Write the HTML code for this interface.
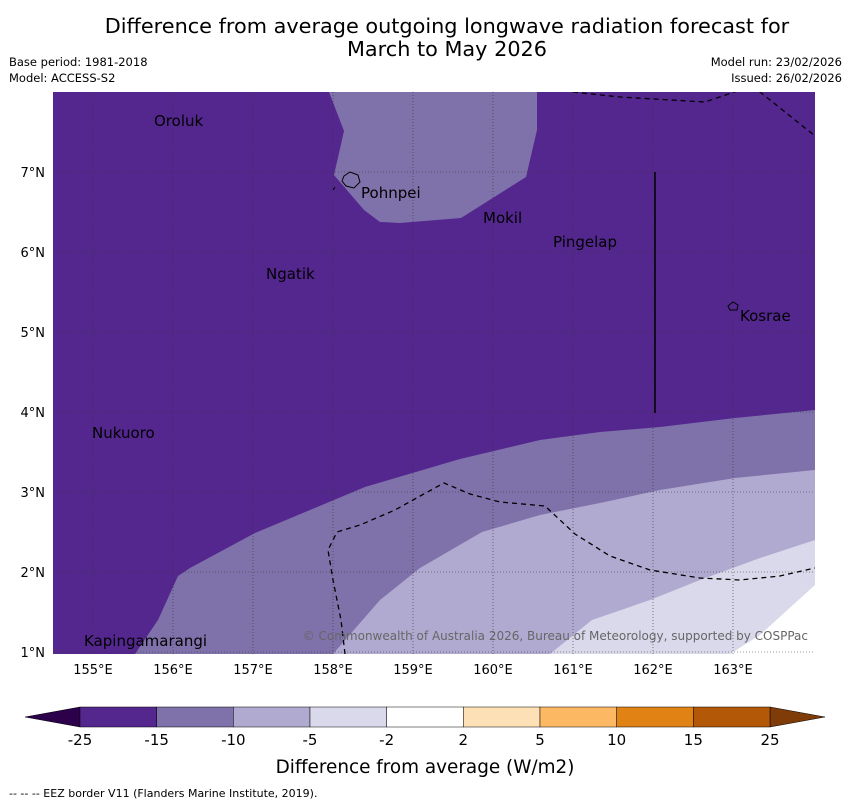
<!DOCTYPE html>
<html><head><meta charset="utf-8"><style>
body{margin:0;background:#fff;font-family:"Liberation Sans","DejaVu Sans",sans-serif;}
svg text{font-family:"DejaVu Sans","Liberation Sans",sans-serif;}
</style></head><body>
<svg width="850" height="804" xmlns="http://www.w3.org/2000/svg">
<text x="447" y="33" font-size="20.8" text-anchor="middle">Difference from average outgoing longwave radiation forecast for</text>
<text x="447" y="56" font-size="20.8" text-anchor="middle">March to May 2026</text>
<text x="9" y="66" font-size="11.5">Base period: 1981-2018</text>
<text x="9" y="82" font-size="11.5">Model: ACCESS-S2</text>
<text x="842" y="66" font-size="11.5" text-anchor="end">Model run: 23/02/2026</text>
<text x="842" y="82" font-size="11.5" text-anchor="end">Issued: 26/02/2026</text>
<g id="map">
<defs><clipPath id="mc"><rect x="53" y="92" width="762" height="562"/></clipPath></defs>
<g clip-path="url(#mc)">
<rect x="53" y="92" width="762" height="562" fill="#54278f"/>
<polygon points="329,92 537,92 537,130 526,177 461,218 400,223 380,222 364,210 334,175 344,131" fill="#7f72aa"/>
<polygon points="135,654 158,620 178,576 190,568 255,533 365,487 460,459 540,440 600,432 660,427 735,418 815,410 815,654" fill="#7f72aa"/>
<polygon points="333,654 380,600 420,568 482,532 540,515 600,503 660,490 735,478 815,470 815,654" fill="#b0aad0"/>
<polygon points="550,654 592,620 650,600 700,580 760,558 815,540 815,654" fill="#dad9eb"/>
<polygon points="730,654 760,635 815,585 815,654" fill="#ffffff"/>
<g id="grid" stroke="#333" stroke-width="0.6" stroke-dasharray="1,2"></g>
<line x1="655" y1="172" x2="655" y2="413" stroke="#000" stroke-width="1.5"/>
<g fill="none" stroke="#000" stroke-width="1.3" stroke-dasharray="5,4">
<polyline points="573,92 620,97 705,102 740,90 760,92 815,136"/>
<polyline points="345,654 341,620 333,580 328,550 337,532 360,525 395,510 422,495 444,483 470,494 500,502 545,506 575,534 610,556 650,570 700,578 740,580 780,576 815,568"/>
</g>
<g fill="none" stroke="#000" stroke-width="1">
<path d="M344,176 L350,172 L358,175 L360,182 L354,188 L346,186 L342,181 Z"/>
<path d="M728,306 L733,302 L738,305 L737,310 L730,310 Z"/>
<line x1="333" y1="190" x2="335" y2="187"/>
</g>
</g>
<g font-size="15" fill="#000">
<text x="154" y="126">Oroluk</text><text x="361" y="198">Pohnpei</text>
<text x="483" y="223">Mokil</text><text x="553" y="247">Pingelap</text>
<text x="266" y="279">Ngatik</text><text x="740" y="321">Kosrae</text>
<text x="92" y="438">Nukuoro</text><text x="84" y="646">Kapingamarangi</text>
</g>
<text x="808" y="640" font-size="12" fill="#666" text-anchor="end">© Commonwealth of Australia 2026, Bureau of Meteorology, supported by COSPPac</text>
<g id="axes" font-size="13"></g>
</g>
<g id="cbar"></g>
<text x="425" y="773" font-size="18.4" text-anchor="middle">Difference from average (W/m2)</text>
<text x="9" y="797" font-size="11">--  --  -- EEZ border V11 (Flanders Marine Institute, 2019).</text>
</svg>
<script>
const lonTicks=[155,156,157,158,159,160,161,162,163];
const latTicks=[1,2,3,4,5,6,7];
const cbarLabels=["-25","-15","-10","-5","-2","2","5","10","15","25"];
const cbarColors=["#54278f","#7f72aa","#b0aad0","#dad9eb","#ffffff","#fee0b6","#fdb863","#e08214","#b35806"];
const NS="http://www.w3.org/2000/svg";
const x=lon=>53+(lon-154.5)*80, y=lat=>92+(8-lat)*80;
const g=document.getElementById('grid'), ax=document.getElementById('axes');
function mk(t,a,p){const e=document.createElementNS(NS,t);for(const k in a)e.setAttribute(k,a[k]);p.appendChild(e);return e;}
lonTicks.forEach(l=>{mk('line',{x1:x(l),x2:x(l),y1:92,y2:654},g);const t=mk('text',{x:x(l),y:674,'text-anchor':'middle'},ax);t.textContent=l+'°E';

});
latTicks.forEach(l=>{mk('line',{x1:53,x2:815,y1:y(l),y2:y(l)},g);const t=mk('text',{x:45,y:y(l)+5,'text-anchor':'end'},ax);t.textContent=l+'°N';

});
const cb=document.getElementById('cbar');const w=690/cbarColors.length;
const lt=mk('polygon',{points:'80,707 25,717 80,727',fill:'#2d004b',stroke:'#000','stroke-width':0.5},cb);


const rt=mk('polygon',{points:'770,707 825,717 770,727',fill:'#7f3b08',stroke:'#000','stroke-width':0.5},cb);


cbarColors.forEach((c,i)=>{const r=mk('rect',{x:80+i*w,y:707,width:w,height:20,fill:c,stroke:'#000','stroke-width':0.5},cb);

});
cbarLabels.forEach((l,i)=>{const t=mk('text',{x:80+i*w,y:745,'text-anchor':'middle','font-size':15},cb);t.textContent=l;

});
</script>
</body></html>
